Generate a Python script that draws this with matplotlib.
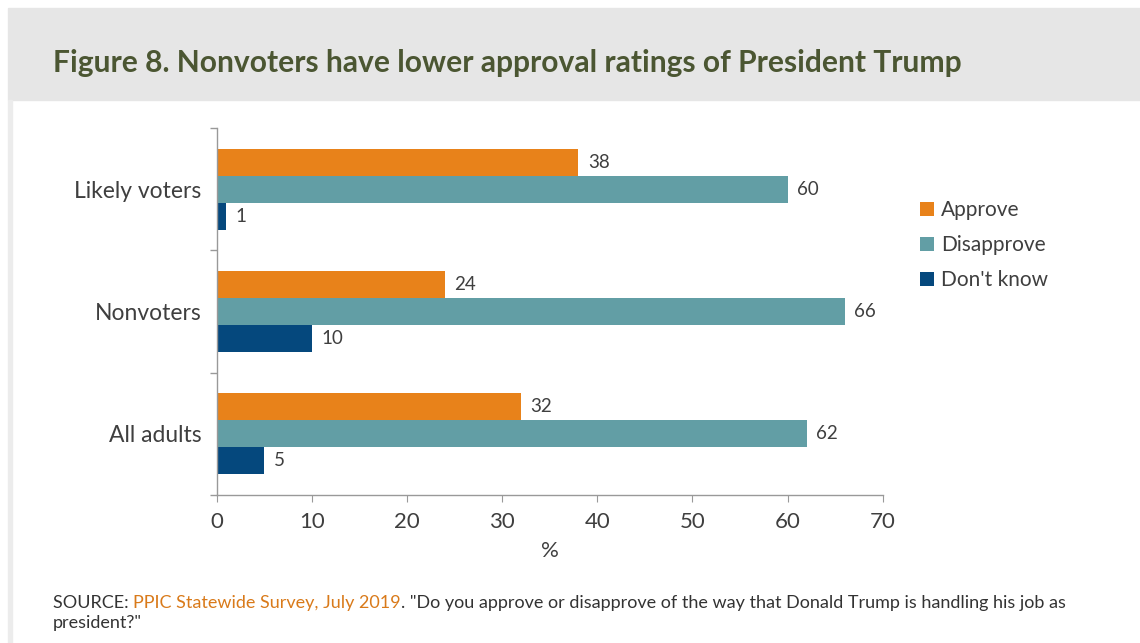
import matplotlib.pyplot as plt
from matplotlib.patches import Rectangle
import numpy as np

plt.rcParams['font.family'] = ['Lato', 'DejaVu Sans']

groups = ['Likely voters', 'Nonvoters', 'All adults']
series = ['Approve', 'Disapprove', "Don't know"]
approve = [38, 24, 32]
disapprove = [60, 66, 62]
dont_know = [1, 10, 5]
x_ticks = [0, 10, 20, 30, 40, 50, 60, 70]

colors = ['#E8821A', '#629EA5', '#05487D']
text_col = '#3f3f3f'

fig = plt.figure(figsize=(11.4, 6.43), dpi=100)

# header band and left frame strip
fig.patches.append(Rectangle((8 / 1140, 1 - 100 / 643), 1, 92 / 643,
                             transform=fig.transFigure, color='#e6e6e6', zorder=0))
fig.patches.append(Rectangle((8 / 1140, 0), 4 / 1140, 1 - 100 / 643,
                             transform=fig.transFigure, color='#ececec', zorder=0))
fig.text(53 / 1140, 1 - 72 / 643, 'Figure 8. Nonvoters have lower approval ratings of President Trump',
         fontsize=21.6, fontweight='bold', color='#4b5632', va='baseline')

ax = fig.add_axes([216.7 / 1140, 1 - 495 / 643, 666 / 1140, 367 / 643])

y = np.arange(len(groups))
h = 0.22
for i, (vals, col) in enumerate(zip([approve, disapprove, dont_know], colors)):
    pos = y + (i - 1) * h
    ax.barh(pos, vals, height=h, color=col, label=series[i], edgecolor='none')
    for p, v in zip(pos, vals):
        ax.text(v + 1, p, str(v), va='center', ha='left', fontsize=13.5, color=text_col)

ax.set_xlim(0, 70)
ax.set_ylim(2.5, -0.5)
ax.set_xticks(x_ticks)
ax.set_yticks(y)
ax.set_yticklabels(groups, fontsize=16.5, color=text_col)
ax.set_yticks([-0.5, 0.5, 1.5, 2.5], minor=True)
ax.tick_params(axis='y', which='major', length=0, pad=11)
ax.tick_params(axis='y', which='minor', length=5, color='#999999', width=1)
ax.tick_params(axis='x', length=5, color='#999999', labelsize=16, labelcolor=text_col, pad=7)
ax.set_xlabel('%', fontsize=16, color=text_col, labelpad=7)
for s in ['top', 'right']:
    ax.spines[s].set_visible(False)
for s in ['left', 'bottom']:
    ax.spines[s].set_color('#999999')
    ax.spines[s].set_linewidth(1)

fig.legend(loc='upper left', bbox_to_anchor=(912 / 1140, 1 - 192 / 643), frameon=False,
           fontsize=15, handlelength=0.65, handleheight=0.65, handletextpad=0.35,
           labelspacing=0.72, labelcolor=text_col, borderaxespad=0)

# source note with coloured link text
fig.canvas.draw()
r = fig.canvas.get_renderer()
x0 = 53 / 1140
yb = 1 - 608 / 643
parts = [('SOURCE: ', '#333333'), ('PPIC Statewide Survey, July 2019', '#D97A1A'),
         ('. "Do you approve or disapprove of the way that Donald Trump is handling his job as', '#333333')]
for txt, col in parts:
    t = fig.text(x0, yb, txt, fontsize=13, color=col, va='baseline')
    bb = t.get_window_extent(r)
    x0 += bb.width / fig.bbox.width
fig.text(53 / 1140, 1 - 628 / 643, 'president?"', fontsize=13, color='#333333', va='baseline')

fig.savefig('out.png', dpi=100, facecolor='white')
